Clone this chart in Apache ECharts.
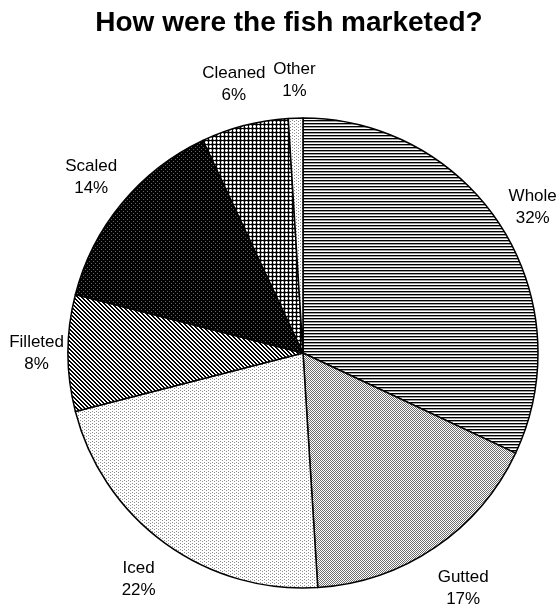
<!DOCTYPE html>
<html><head><meta charset="utf-8">
<script src="https://cdn.jsdelivr.net/npm/echarts@6/dist/echarts.min.js"></script>
<style>html,body{margin:0;padding:0;background:#fff}#c{width:558px;height:616px}</style>
</head><body><div id="c"></div>
<script>
const categories = ['Whole', 'Gutted', 'Iced', 'Filleted', 'Scaled', 'Cleaned', 'Other'];
const values = [32, 17, 22, 8, 14, 6, 1];
const titleText = 'How were the fish marketed?';

const CX = 303, CY = 353, R = 235;
const LABEL_FONT = 17, LABEL_LH = 22;

function tile(w, h, fn) {
  const c = document.createElement('canvas');
  c.width = w; c.height = h;
  const ctx = c.getContext('2d');
  const img = ctx.createImageData(w, h);
  for (let y = 0; y < h; y++) for (let x = 0; x < w; x++) {
    const v = fn(x, y), i = (y * w + x) * 4;
    img.data[i] = img.data[i + 1] = img.data[i + 2] = v; img.data[i + 3] = 255;
  }
  ctx.putImageData(img, 0, 0);
  return { image: c, repeat: 'repeat' };
}
const dots = (x, y) => ((x === 0 && y === 0) || (x === 2 && y === 1)) ? 140 : 255;
const patterns = [
  tile(3, 3, (x, y) => y === 0 ? 0 : (y === 1 ? 160 : 255)),
  tile(2, 2, (x, y) => ((x + y) % 2 === 0) ? 110 : 255),
  tile(4, 3, dots),
  tile(4, 4, (x, y) => (((x - y) % 4 + 4) % 4 < 2) ? 0 : 255),
  tile(4, 4, (x, y) => ((x === 1 && y === 1) || (x === 3 && y === 3)) ? 100 : 0),
  tile(4, 4, (x, y) => {
    if (x === 0 || y === 0) return 0;
    if ((x === 2) || (y === 2)) return 255;
    return 150;
  }),
  tile(4, 3, dots)
];

const mctx = document.createElement('canvas').getContext('2d');
mctx.font = LABEL_FONT + 'px "Liberation Sans"';
const total = values.reduce((a, b) => a + b, 0);
const labelInfo = [];
let acc = 0;
categories.forEach((n, i) => {
  const f = (acc + values[i] / 2) / total;
  acc += values[i];
  const th = 2 * Math.PI * f;
  const w = Math.max(mctx.measureText(n).width, mctx.measureText(values[i] + '%').width) / 2;
  labelInfo.push({ dx: Math.sin(th), dy: -Math.cos(th), W: w });
});

const chart = echarts.init(document.getElementById('c'), null, { renderer: 'canvas' });
const data = categories.map((n, i) => ({ name: n, value: values[i], itemStyle: { color: patterns[i] } }));

chart.setOption({
  backgroundColor: '#fff',
  animation: false,
  title: {
    text: titleText, left: 289, top: 9, textAlign: 'center', padding: 0,
    textStyle: { fontFamily: 'Liberation Sans', fontWeight: 'bold', fontSize: 28, color: '#000' }
  },
  series: [{
    type: 'pie',
    center: [CX, CY],
    radius: R,
    startAngle: 90,
    clockwise: true,
    avoidLabelOverlap: false,
    data: data,
    itemStyle: { borderColor: '#000', borderWidth: 1.5 },
    label: {
      show: true, position: 'outside', formatter: '{a|{b}}\n{a|{c}%}',
      rich: { a: { width: 90, align: 'center', fontFamily: 'Liberation Sans', fontSize: LABEL_FONT, lineHeight: LABEL_LH, color: '#000' } }
    },
    labelLine: { show: false, length: 10, length2: 0 },
    labelLayout: function (p) {
      const li = labelInfo[p.dataIndex];
      const dx = li.dx, dy = li.dy;
      const gap = 4 + 11 * Math.pow(dy, 4) + 10 * Math.max(0, dy);
      const d = gap + li.W * Math.abs(dx) + LABEL_LH * Math.abs(dy);
      return { x: CX + dx * (R + d), y: CY + dy * (R + d), align: 'center', verticalAlign: 'middle', hideOverlap: false };
    },
    emphasis: { disabled: true }
  }]
});
</script></body></html>
